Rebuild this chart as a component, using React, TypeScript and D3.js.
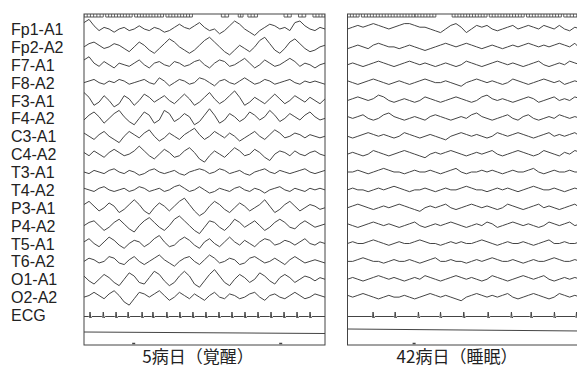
import React from "react";
import * as d3 from "d3";

const channels = ["Fp1-A1","Fp2-A2","F7-A1","F8-A2","F3-A1","F4-A2","C3-A1","C4-A2","T3-A1","T4-A2","P3-A1","P4-A2","T5-A1","T6-A2","O1-A1","O2-A2","ECG"];
const captions = ["5病日（覚醒）", "42病日（睡眠）"];

// Awake (day 5) traces
const awake: number[][] = [
  [4,6,2,-1,1,0,-2,0,1,-1,0,2,0,-1,1,0,-2,-1,1,3,1,0,2,4,1,-1,0,-3,-1,2,5,3,0,-2,-4,-1,1,3,2,0,1,-1,4,5,2,0,-1,1,0],
  [0,2,3,1,-1,0,2,1,-1,-3,0,3,1,-2,-4,-1,2,5,3,0,-2,-4,-2,1,4,6,3,0,-3,-5,-2,1,-1,-3,0,4,6,2,-2,-4,-1,3,5,2,-1,-3,-2,0,1],
  [3,5,1,-1,2,0,-2,1,0,-1,1,3,0,-2,1,2,0,-1,2,1,-1,0,2,3,0,-2,1,3,2,-1,0,2,4,1,-2,0,3,1,-1,0,2,4,2,-1,1,0,-2,0,1],
  [0,1,2,0,-1,1,0,2,1,-1,0,1,2,0,-1,3,1,-2,0,2,1,-1,0,3,2,0,-2,1,2,0,-1,1,3,1,-1,0,2,1,-1,0,1,2,0,-1,1,0,1,0,-1],
  [5,2,-3,-1,3,0,-4,-2,3,1,-3,0,4,2,-1,1,3,0,-2,1,4,1,-3,-1,2,5,1,-2,0,3,6,2,-3,-1,2,0,-2,1,4,1,-2,0,3,1,-1,2,0,-2,1],
  [-1,2,4,1,-3,0,3,5,1,-2,-4,0,4,2,-3,-1,5,3,-2,0,3,1,-4,-2,2,6,2,-3,-1,3,1,-2,0,4,2,-1,1,5,2,-2,0,3,1,-1,2,4,1,-1,0],
  [2,0,-2,1,3,0,-2,-4,0,3,1,-1,2,4,0,-3,-1,2,0,-2,1,3,5,1,-2,0,3,1,-1,2,0,-3,-1,1,3,0,-2,1,4,2,-1,0,2,1,-1,1,0,-1,0],
  [1,-1,2,0,-2,1,3,1,-1,0,2,5,2,-1,-3,0,3,1,-2,-1,2,4,1,-3,-5,-1,2,0,-2,1,4,2,-1,0,3,1,-2,-4,0,2,1,-1,2,0,-1,1,2,0,-1],
  [0,-1,1,0,-1,1,2,0,-1,1,0,-2,-1,1,2,0,-1,0,1,-1,-2,0,1,2,1,-1,0,2,1,-1,0,1,-1,-2,0,1,2,0,-1,1,0,-1,0,1,2,0,-1,0,1],
  [1,0,-1,1,2,0,-1,0,1,-1,0,2,1,-1,0,1,-1,0,2,3,1,-1,0,2,0,-2,-1,1,0,-1,1,2,0,-1,1,0,-2,0,1,2,0,-1,1,0,-1,1,0,1,0],
  [2,4,1,-2,0,3,1,-3,-1,2,5,2,-2,-4,0,3,1,-2,1,4,6,2,-2,-5,-3,1,4,2,-1,-3,0,3,1,-2,0,2,5,1,-3,-1,2,4,1,-2,0,2,1,-1,0],
  [0,2,3,0,-3,-1,2,4,1,-2,-4,0,3,5,2,-1,-3,0,4,6,3,0,-3,-5,-1,3,2,-1,-3,0,4,2,-1,1,3,0,-3,-1,2,4,2,-1,-2,1,3,1,-1,0,1],
  [1,3,0,-2,1,4,2,-1,-3,0,2,1,-2,0,3,5,1,-2,-1,2,4,2,-1,-3,1,3,0,-2,1,4,1,-1,2,0,-2,1,3,2,-1,0,2,1,-1,1,3,0,-1,1,0],
  [0,2,1,-1,0,3,2,-1,-2,1,3,0,-2,0,2,4,1,-1,-3,0,2,3,0,-2,1,4,2,-1,0,2,1,-2,-1,2,3,1,-1,0,2,0,-2,1,3,1,-1,0,1,0,-1],
  [2,-1,-3,0,3,1,-2,-4,0,4,2,-2,-3,1,5,3,-1,-4,-2,2,5,2,-3,-5,-1,3,6,2,-2,-4,0,3,1,-2,0,4,2,-1,-3,1,3,1,-2,0,2,1,-1,1,0],
  [0,1,3,1,-1,2,4,1,-3,-5,-1,3,2,0,2,4,1,-2,0,3,1,-1,2,0,-2,1,3,0,-1,2,1,-1,0,2,3,0,-2,1,2,0,-1,1,3,1,-1,0,2,1,0],
];

// Sleep (day 42) traces
const sleep: number[][] = [
  [0,1,2,1,2,3,2,1,0,1,2,3,3,2,1,1,0,-1,-2,0,2,3,1,-2,0,2,1,2,0,-1,0,1,2,0,1,2,1,0,2,1,0,2,0,-1,1,0],
  [-1,0,1,0,-1,1,2,1,0,0,-1,0,1,0,-1,-2,-1,0,1,2,1,0,1,2,1,0,-1,0,1,0,-1,0,1,0,1,2,1,0,1,0,1,2,1,0,2,-1],
  [0,1,0,-1,0,1,2,1,0,-1,0,1,2,1,0,1,0,-1,0,1,0,-1,0,2,1,0,-1,0,1,2,1,0,1,0,-1,0,1,2,0,-1,0,1,0,2,1,0],
  [1,0,-1,0,1,2,1,0,-1,0,1,0,-1,0,1,2,1,0,0,1,0,-1,-2,0,1,2,1,0,1,0,-1,0,2,1,0,-1,0,1,2,1,0,1,-1,0,1,0],
  [0,1,2,1,0,1,3,2,0,-1,0,1,0,-1,0,2,1,0,-1,0,1,2,1,0,-1,0,2,3,1,0,1,0,-1,0,1,2,1,-1,0,1,2,0,1,0,2,1],
  [1,0,1,2,0,-1,0,2,3,1,0,-1,0,1,0,-1,1,2,1,0,-1,0,1,0,2,3,1,0,-1,0,1,2,0,-1,1,2,0,-1,0,1,0,2,1,0,1,0],
  [0,-1,0,1,2,1,0,1,0,-1,0,2,1,0,-1,0,1,0,-1,-2,0,1,2,1,0,1,0,-1,0,2,1,0,1,2,1,0,-1,0,1,2,0,1,0,1,2,0],
  [0,1,0,-1,0,2,1,0,-1,0,1,2,1,0,-1,-2,0,1,0,1,2,1,0,-1,0,1,0,1,2,0,-1,0,1,2,1,0,-1,0,2,1,0,-1,1,0,2,1],
  [0,0,1,0,-1,0,1,2,1,0,0,-1,0,1,0,0,1,0,-1,0,1,2,0,-1,0,0,1,0,1,0,-1,0,1,0,0,1,2,0,-1,0,1,0,0,1,0,0],
  [0,1,0,0,-1,0,1,0,1,2,1,0,-1,0,0,1,0,-1,0,1,0,0,1,2,1,0,0,-1,0,1,0,1,0,-1,0,1,2,1,0,0,1,0,-1,0,1,0],
  [0,1,2,1,0,-1,0,1,0,1,2,1,0,-1,-2,0,1,0,1,2,0,-1,0,1,2,1,0,1,0,-1,0,2,1,0,-1,0,1,2,0,1,0,-1,0,1,2,0],
  [1,0,-1,0,1,2,1,0,1,0,-1,0,1,2,0,-1,0,1,0,1,2,1,0,-1,0,1,0,2,1,-1,0,1,2,1,0,1,0,-1,0,2,1,0,1,2,0,1],
  [0,1,0,0,1,2,1,0,-1,0,1,0,0,1,2,1,0,0,-1,0,1,0,1,0,0,1,2,1,0,-1,0,1,0,0,1,0,-1,0,1,2,0,0,1,0,0,1],
  [0,0,1,2,1,0,0,-1,0,1,0,0,1,0,-1,0,1,2,0,0,1,0,0,-1,0,1,0,1,2,1,0,0,1,0,-1,0,1,0,0,1,2,1,0,0,1,0],
  [0,1,0,-1,0,1,2,1,0,1,0,-1,0,1,0,2,1,0,-1,0,1,2,1,0,1,0,-1,0,2,1,0,-1,0,1,2,1,0,1,2,0,-1,0,1,0,1,0],
  [1,0,1,2,1,0,-1,0,1,0,0,1,0,-1,0,1,2,1,0,1,0,-1,-2,0,1,2,1,0,1,0,1,2,0,-1,0,1,2,1,0,-1,0,2,1,0,1,0],
];

// ECG R-peak positions (fraction of panel width)
const ecgAwake = [0.025,0.08,0.133,0.183,0.241,0.286,0.344,0.398,0.452,0.506,0.560,0.614,0.668,0.722,0.776,0.830,0.884,0.938];
const ecgSleep = [0.11,0.205,0.305,0.40,0.50,0.605,0.705,0.79,0.89,0.985];

const panels = [
  { x0: 84, x1: 325, traces: awake, amp: 1.6, ecg: ecgAwake, caption: captions[0], cx: 198, flatY: [332, 333.5], marks: [0.2, 0.81],
    ticks: [[0, 0.08], [0.09, 0.2], [0.21, 0.33], [0.34, 0.45], [0.57, 0.6], [0.64, 0.66], [0.68, 0.72], [0.83, 0.86], [0.89, 0.92], [0.95, 1]] },
  { x0: 347.5, x1: 580, traces: sleep, amp: 1.8, ecg: ecgSleep, caption: captions[1], cx: 457, flatY: [329, 331], marks: [0.28],
    ticks: [[0, 0.05], [0.06, 0.29], [0.29, 0.38], [0.45, 0.6], [0.61, 0.76], [0.77, 0.92], [0.93, 1]] },
];

const top = 14, bottom = 345;
const yScale = d3.scaleLinear().domain([0, 16]).range([29, 315]);
const stroke = "#444";

export default function App() {
  return (
    <svg width={577} height={368} style={{ position: "absolute", left: 0, top: 0, background: "#fff" }}>
      {channels.map((c, i) => (
        <text key={c} x={11} y={yScale(i) + 6} style={{ fontFamily: "'Liberation Sans', Arial, sans-serif", fontSize: "16px" }} fill="#222">{c}</text>
      ))}
      {panels.map((p, pi) => {
        const fx = d3.scaleLinear().domain([0, 1]).range([p.x0, p.x1]);
        const ecgY = yScale(16) + 1.5;
        const ecgPts: [number, number][] = [[fx(0), ecgY]];
        p.ecg.forEach((b) => {
          ecgPts.push([fx(b) - 1.5, ecgY], [fx(b) - 0.5, ecgY + 1], [fx(b), ecgY - 4.5], [fx(b) + 0.7, ecgY + 1.5], [fx(b) + 2, ecgY]);
        });
        ecgPts.push([fx(1), ecgY]);
        return (
          <g key={pi}>
            <clipPath id={`clip${pi}`}><rect x={p.x0} y={top} width={p.x1 - p.x0} height={bottom - top} /></clipPath>
            <rect x={p.x0} y={top} width={p.x1 - p.x0} height={bottom - top} fill="none" stroke="#444" strokeWidth={1} />
            <g clipPath={`url(#clip${pi})`}>
              {p.ticks.map(([a, b], k) => {
                const n = Math.max(1, Math.round((fx(b) - fx(a)) / 3));
                const xs = d3.range(n + 1).map((j) => fx(a) + ((fx(b) - fx(a)) * j) / n);
                return (
                  <g key={k}>
                    <line x1={fx(a)} x2={fx(b)} y1={top + 3} y2={top + 3} stroke="#444" strokeWidth={0.9} />
                    {xs.map((x, j) => <line key={j} x1={x} x2={x} y1={top} y2={top + 3} stroke="#444" strokeWidth={0.8} />)}
                  </g>
                );
              })}
              {p.traces.map((vals, i) => {
                const xs = d3.scaleLinear().domain([0, vals.length - 1]).range([p.x0, p.x1]);
                const line = d3.line<number>().x((_, k) => xs(k)).y((v) => yScale(i) - v * p.amp);
                return <path key={i} d={line(vals) || ""} fill="none" stroke={stroke} strokeWidth={1} strokeLinejoin="round" />;
              })}
              <path d={d3.line()(ecgPts) || ""} fill="none" stroke={stroke} strokeWidth={1} />
              <line x1={p.x0} x2={p.x1} y1={p.flatY[0]} y2={p.flatY[1]} stroke={stroke} strokeWidth={1} />
              {p.marks.map((m, k) => <line key={k} x1={fx(m)} x2={fx(m) + 3} y1={bottom - 1.5} y2={bottom - 1.5} stroke="#444" strokeWidth={1.5} />)}
            </g>
            <text x={p.cx} y={362.5} textAnchor="middle" style={{ fontFamily: "'Noto Sans CJK JP', sans-serif", fontSize: "17px" }} fill="#222">{p.caption}</text>
          </g>
        );
      })}
    </svg>
  );
}
